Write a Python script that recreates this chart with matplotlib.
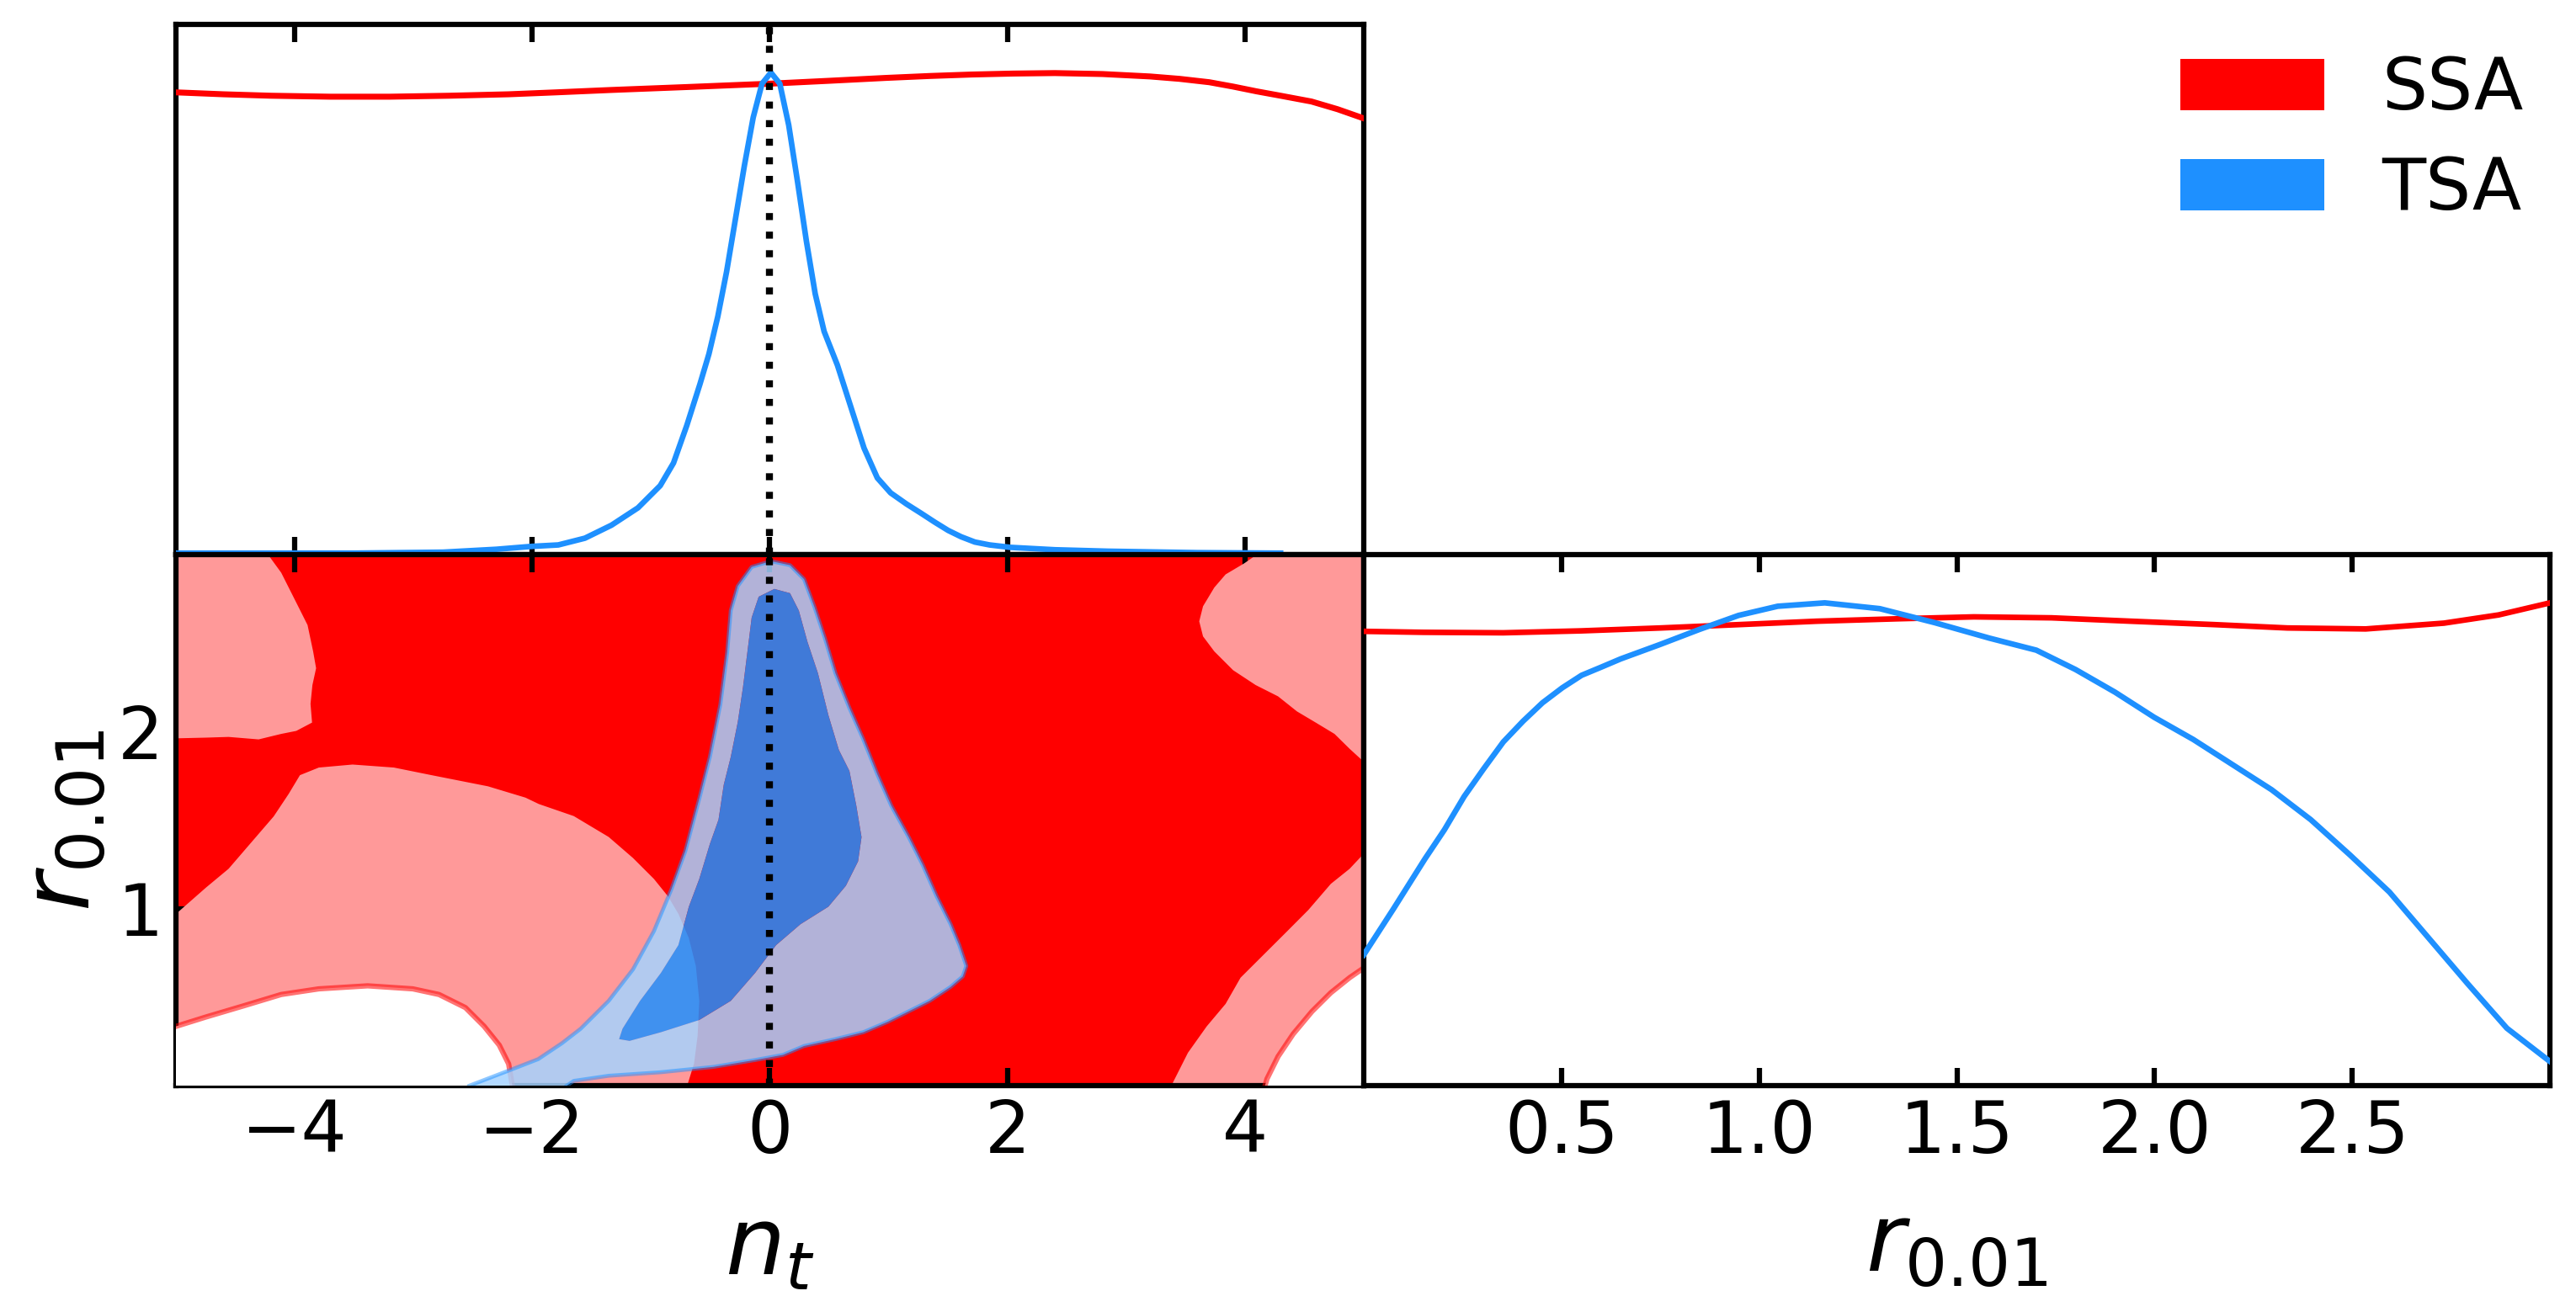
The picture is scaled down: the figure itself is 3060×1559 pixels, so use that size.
import numpy as np
import matplotlib
matplotlib.use("Agg")
import matplotlib.pyplot as plt
from matplotlib.patches import Patch, PathPatch
from matplotlib.path import Path

# ---------------- data ----------------
# 1D marginal of n_t
nt_tsa_n = [-5.0, -4.0, -3.5, -2.751, -2.303, -2.005, -1.781, -1.557, -1.333, -1.11,
            -0.923, -0.811, -0.699, -0.588, -0.513, -0.438, -0.364, -0.289, -0.215,
            -0.140, -0.066, 0.009, 0.084, 0.159, 0.233, 0.308, 0.382, 0.457, 0.569,
            0.681, 0.793, 0.905, 1.017, 1.15, 1.278, 1.39, 1.502, 1.61, 1.726, 1.85,
            2.024, 2.4, 2.845, 3.6, 4.3]
nt_tsa_p = [0.003, 0.003, 0.003, 0.005, 0.011, 0.017, 0.020, 0.034, 0.061, 0.097,
            0.143, 0.190, 0.268, 0.354, 0.416, 0.494, 0.587, 0.697, 0.806,
            0.907, 0.977, 1.0, 0.977, 0.891, 0.774, 0.650, 0.541, 0.463, 0.393,
            0.307, 0.221, 0.159, 0.128, 0.105, 0.085, 0.067, 0.050, 0.037, 0.026, 0.020,
            0.015, 0.010, 0.007, 0.004, 0.003]
nt_ssa_n = [-5.0, -4.6, -4.2, -3.7, -3.2, -2.7, -2.2, -1.8, -1.33, -0.7, 0.0, 0.5, 0.98,
            1.35, 1.7, 2.05, 2.4, 2.8, 3.2, 3.45, 3.7, 3.9, 4.1, 4.3, 4.56, 4.78, 5.0]
nt_ssa_p = [0.959, 0.955, 0.952, 0.950, 0.950, 0.952, 0.955, 0.959, 0.964, 0.970, 0.977,
            0.983, 0.989, 0.993, 0.996, 0.998, 0.999, 0.997, 0.992, 0.987, 0.980, 0.971,
            0.961, 0.952, 0.940, 0.924, 0.905]

# 1D marginal of r_0.01
r_tsa_r = [0.0, 0.075, 0.155, 0.204, 0.254, 0.303, 0.353, 0.403, 0.452, 0.502, 0.551,
           0.601, 0.650, 0.75, 0.849, 0.948, 1.047, 1.166, 1.305, 1.444, 1.582, 1.701,
           1.80, 1.90, 1.999, 2.098, 2.197, 2.296, 2.395, 2.494, 2.594, 2.693, 2.792,
           2.891, 3.0]
r_tsa_p = [0.271, 0.366, 0.470, 0.530, 0.599, 0.656, 0.712, 0.755, 0.793, 0.824, 0.850,
           0.867, 0.884, 0.914, 0.945, 0.974, 0.993, 1.0, 0.988, 0.959, 0.927, 0.902,
           0.862, 0.815, 0.763, 0.717, 0.665, 0.613, 0.551, 0.478, 0.401, 0.306, 0.211,
           0.119, 0.050]
r_ssa_r = [0.0, 0.15, 0.353, 0.55, 0.75, 0.95, 1.146, 1.35, 1.543, 1.74, 1.94, 2.15,
           2.336, 2.534, 2.732, 2.87, 3.0]
r_ssa_p = [0.941, 0.939, 0.938, 0.942, 0.948, 0.955, 0.962, 0.967, 0.971, 0.969, 0.962,
           0.955, 0.948, 0.946, 0.958, 0.975, 1.0]

# prior ranges
nt_range = [-5.0, 5.0]
r_range = [0.0, 3.0]

# SSA 2D credible regions (n_t, r_0.01)
# regions between 68% and 95% contours
ssa_pink_topleft = [(-5.0, 3.0), (-4.225, 3.0), (-4.114, 2.898), (-3.987, 2.729), (-3.892, 2.602),
                    (-3.845, 2.453), (-3.82, 2.358), (-3.851, 2.263), (-3.867, 2.157),
                    (-3.854, 2.051), (-3.987, 2.004), (-4.114, 1.987), (-4.304, 1.956),
                    (-4.557, 1.970), (-4.747, 1.966), (-5.0, 1.962)]
ssa_pink_left = [(-5.0, 0.97), (-4.747, 1.119), (-4.557, 1.225), (-4.367, 1.373), (-4.177, 1.521),
                 (-4.051, 1.648), (-3.956, 1.754), (-3.797, 1.797), (-3.513, 1.814),
                 (-3.165, 1.797), (-2.848, 1.754), (-2.373, 1.691), (-2.057, 1.627),
                 (-1.945, 1.591), (-1.651, 1.523), (-1.357, 1.405), (-1.152, 1.286),
                 (-0.976, 1.168), (-0.858, 1.07), (-0.77, 0.971), (-0.682, 0.834),
                 (-0.623, 0.676), (-0.594, 0.479), (-0.608, 0.283), (-0.638, 0.125),
                 (-0.696, 0.0), (-5.0, 0.0)]
ssa_pink_topright = [(4.10, 3.0), (3.995, 2.951), (3.837, 2.888), (3.742, 2.814), (3.647, 2.708),
                     (3.615, 2.623), (3.647, 2.538), (3.742, 2.453), (3.9, 2.347), (4.09, 2.263),
                     (4.279, 2.199), (4.438, 2.114), (4.596, 2.051), (4.754, 1.987),
                     (4.881, 1.903), (5.0, 1.83), (5.0, 3.0)]
ssa_pink_right = [(3.39, 0.0), (3.393, 0.017), (3.52, 0.186), (3.678, 0.335), (3.837, 0.462),
                  (3.963, 0.61), (4.153, 0.737), (4.343, 0.864), (4.533, 0.992),
                  (4.723, 1.14), (4.881, 1.225), (5.0, 1.31), (5.0, 0.0)]
# regions outside the 95% contour
ssa_out_left = [(-5.0, 0.335), (-4.747, 0.388), (-4.43, 0.451), (-4.114, 0.515), (-3.797, 0.547),
                (-3.386, 0.564), (-3.006, 0.547), (-2.785, 0.515), (-2.563, 0.441),
                (-2.405, 0.335), (-2.278, 0.229), (-2.199, 0.123), (-2.168, 0.0), (-5.0, 0.0)]
ssa_out_right = [(4.169, 0.0), (4.185, 0.038), (4.279, 0.165), (4.406, 0.292), (4.564, 0.419),
                 (4.723, 0.525), (4.881, 0.61), (5.0, 0.665), (5.0, 0.0)]

# TSA 2D contours
tsa_95 = [(-2.53, 0.0), (-2.215, 0.081), (-1.95, 0.15), (-1.75, 0.24), (-1.592, 0.322),
          (-1.357, 0.479), (-1.152, 0.657), (-0.976, 0.873), (-0.829, 1.109), (-0.711, 1.326),
          (-0.594, 1.621), (-0.505, 1.857), (-0.417, 2.152), (-0.359, 2.448), (-0.329, 2.684),
          (-0.27, 2.822), (-0.153, 2.93), (0.009, 2.963), (0.17, 2.94), (0.288, 2.861),
          (0.376, 2.703), (0.464, 2.526), (0.552, 2.33), (0.67, 2.133), (0.787, 1.956),
          (0.905, 1.759), (1.022, 1.582), (1.169, 1.404), (1.287, 1.247), (1.404, 1.07),
          (1.522, 0.912), (1.595, 0.794), (1.654, 0.676), (1.624, 0.617), (1.522, 0.558),
          (1.345, 0.479), (1.169, 0.42), (0.993, 0.361), (0.787, 0.302), (0.552, 0.263),
          (0.288, 0.224), (0.111, 0.174), (-0.124, 0.145), (-0.476, 0.106), (-0.917, 0.076),
          (-1.357, 0.056), (-1.651, 0.027), (-1.71, 0.0)]
tsa_68 = [(0.038, 2.806), (-0.094, 2.762), (-0.153, 2.644), (-0.182, 2.487), (-0.226, 2.251),
          (-0.27, 2.054), (-0.329, 1.857), (-0.388, 1.7), (-0.432, 1.503), (-0.505, 1.365),
          (-0.594, 1.168), (-0.682, 1.011), (-0.77, 0.794), (-0.917, 0.637), (-1.093, 0.479),
          (-1.24, 0.322), (-1.269, 0.263), (-1.181, 0.253), (-0.917, 0.302), (-0.594, 0.371),
          (-0.329, 0.479), (-0.124, 0.637), (0.053, 0.794), (0.258, 0.912), (0.493, 1.011),
          (0.64, 1.129), (0.743, 1.267), (0.772, 1.404), (0.728, 1.582), (0.67, 1.778),
          (0.581, 1.897), (0.493, 2.093), (0.405, 2.33), (0.317, 2.507), (0.244, 2.684),
          (0.17, 2.782)]

nt_true = 0.0
labels = ["SSA", "TSA"]

# ---------------- style ----------------
RED = "#FF0000"
RED_PALE = "#FF9999"
BLUE = "#1E90FF"
BLUE_PALE = (165 / 255, 211 / 255, 1.0)
FS_TICK = 20.5
FS_LABEL = 27

plt.rcParams["font.family"] = ["DejaVu Sans"]
plt.rcParams["mathtext.fontset"] = "dejavusans"

fig = plt.figure(figsize=(10.2, 5.1967), dpi=300)
L, M, R = 0.0683, 0.5294, 0.9899
B, MID, T = 0.1725, 0.5773, 0.9814
ax_top = fig.add_axes([L, MID, M - L, T - MID])
ax_2d = fig.add_axes([L, B, M - L, MID - B])
ax_r = fig.add_axes([M, B, R - M, MID - B])

for ax in (ax_top, ax_2d, ax_r):
    for s in ax.spines.values():
        s.set_linewidth(1.5)
    ax.tick_params(direction="in", length=5, width=1.5, top=True, right=True,
                   labelsize=FS_TICK)


def arr(pts):
    a = np.asarray(pts, dtype=float)
    return a[:, 0], a[:, 1]


# ---- top: n_t marginal
ax_top.plot(nt_ssa_n, nt_ssa_p, color=RED, lw=1.7, zorder=3)
ax_top.plot(nt_tsa_n, nt_tsa_p, color=BLUE, lw=1.6, zorder=3)
ax_top.axvline(nt_true, color="black", ls=":", lw=2, zorder=4)
ax_top.set_xlim(nt_range)
ax_top.set_ylim(0, 1.1)
ax_top.set_xticks([-4, -2, 0, 2, 4])
ax_top.set_yticks([])
ax_top.tick_params(labelbottom=False, left=False, right=False)

# ---- 2D panel
ax_2d.fill_between(nt_range, r_range[0], r_range[1], color=RED, lw=0, zorder=1)
for poly in (ssa_pink_topleft, ssa_pink_left, ssa_pink_topright, ssa_pink_right):
    x, y = arr(poly)
    ax_2d.fill(x, y, color=RED_PALE, lw=0, zorder=2)
for poly in (ssa_out_left, ssa_out_right):
    x, y = arr(poly)
    ax_2d.fill(x, y, color="white", lw=0, zorder=3)
x, y = arr(ssa_out_left)
ax_2d.plot(x[:-1], y[:-1], color=RED, alpha=0.55, lw=1.5, zorder=4)
x, y = arr(ssa_out_right)
ax_2d.plot(x[:-1], y[:-1], color=RED, alpha=0.55, lw=1.5, zorder=4)


def signed_area(x, y):
    return 0.5 * np.sum(x * np.roll(y, -1) - np.roll(x, -1) * y)


ox, oy = arr(tsa_95)
ix, iy = arr(tsa_68)
if np.sign(signed_area(ox, oy)) == np.sign(signed_area(ix, iy)):
    ix, iy = ix[::-1], iy[::-1]
verts = list(zip(ox, oy)) + [(ox[0], oy[0])] + list(zip(ix, iy)) + [(ix[0], iy[0])]
codes = ([Path.MOVETO] + [Path.LINETO] * (len(ox) - 1) + [Path.CLOSEPOLY] +
         [Path.MOVETO] + [Path.LINETO] * (len(ix) - 1) + [Path.CLOSEPOLY])
ax_2d.add_patch(PathPatch(Path(verts, codes), facecolor=BLUE_PALE, edgecolor="none",
                          alpha=0.85, zorder=5))
ax_2d.fill(ix, iy, color=BLUE, alpha=0.85, lw=0, zorder=5)
ax_2d.plot(ox, oy, color=BLUE, alpha=0.5, lw=1.1, zorder=6)
ax_2d.axvline(nt_true, color="black", ls=":", lw=2, zorder=7)

ax_2d.set_xlim(nt_range)
ax_2d.set_ylim(r_range)
ax_2d.set_xticks([-4, -2, 0, 2, 4])
ax_2d.set_yticks([1, 2])
ax_2d.set_xlabel(r"$n_t$", fontsize=FS_LABEL, labelpad=10)
ax_2d.set_ylabel(r"$r_{0.01}$", fontsize=FS_LABEL, labelpad=2.5)

# ---- r marginal
ax_r.plot(r_ssa_r, r_ssa_p, color=RED, lw=1.6, zorder=3)
ax_r.plot(r_tsa_r, r_tsa_p, color=BLUE, lw=1.6, zorder=3)
ax_r.set_xlim(r_range)
ax_r.set_ylim(0, 1.1)
ax_r.set_xticks([0.5, 1.0, 1.5, 2.0, 2.5])
ax_r.set_yticks([])
ax_r.tick_params(left=False, right=False)
ax_r.set_xlabel(r"$r_{0.01}$", fontsize=FS_LABEL, labelpad=9)

# ---- legend
handles = [Patch(facecolor=RED, edgecolor="none", label=labels[0]),
           Patch(facecolor=BLUE, edgecolor="none", label=labels[1])]
fig.legend(handles=handles, loc="upper right", bbox_to_anchor=(0.9795, 0.958),
           frameon=False, fontsize=FS_TICK, borderpad=0, borderaxespad=0,
           labelspacing=0.42, handlelength=2.0, handleheight=0.72, handletextpad=0.8)

fig.savefig("out.png", dpi=300)
